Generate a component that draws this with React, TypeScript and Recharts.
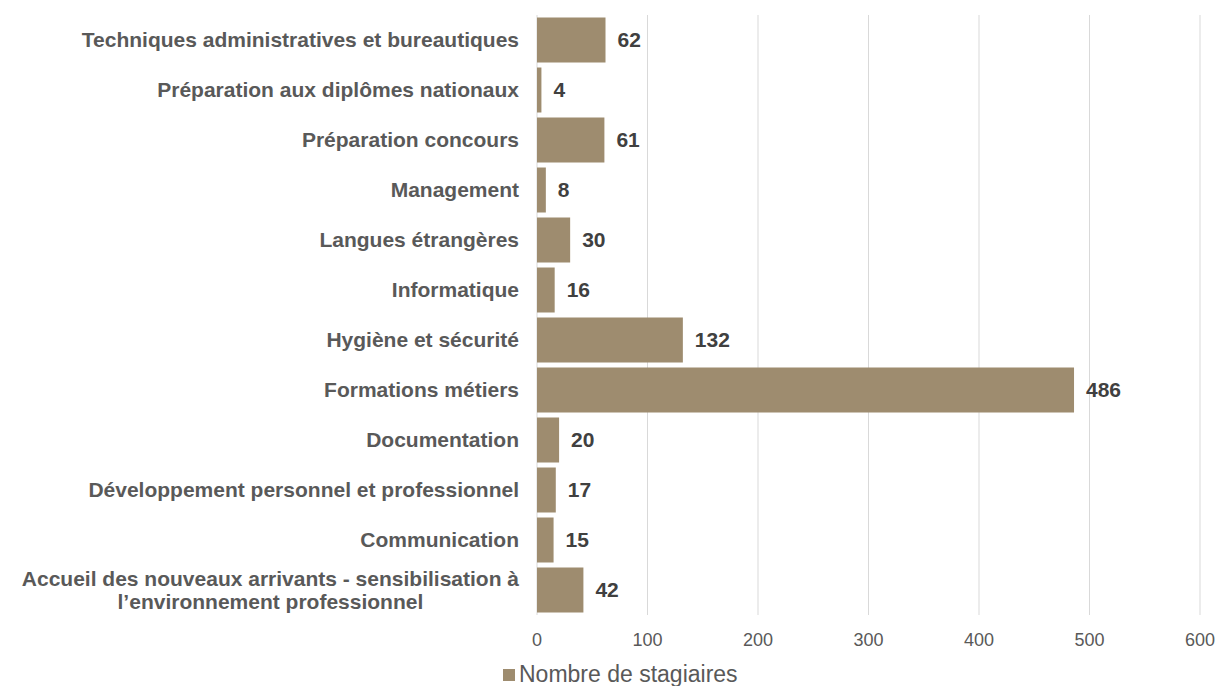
import React from 'react';
import { BarChart, Bar, XAxis, YAxis, CartesianGrid, Legend, LabelList } from 'recharts';

const categories = [
  'Techniques administratives et bureautiques',
  'Préparation aux diplômes nationaux',
  'Préparation concours',
  'Management',
  'Langues étrangères',
  'Informatique',
  'Hygiène et sécurité',
  'Formations métiers',
  'Documentation',
  'Développement personnel et professionnel',
  'Communication',
  'Accueil des nouveaux arrivants - sensibilisation à l’environnement professionnel',
];
const stagiaires = [62, 4, 61, 8, 30, 16, 132, 486, 20, 17, 15, 42];
const xTicks = [0, 100, 200, 300, 400, 500, 600];
const seriesName = 'Nombre de stagiaires';

const data = categories.map((c, i) => ({ cat: c, value: stagiaires[i] }));

const FONT = '"Liberation Sans", Arial, sans-serif';
const LABEL_FONT = `bold 21px ${FONT}`;

let ctx: CanvasRenderingContext2D | null = null;
function measure(s: string) {
  if (!ctx) ctx = document.createElement('canvas').getContext('2d');
  if (!ctx) return s.length * 11;
  ctx.font = LABEL_FONT;
  return ctx.measureText(s).width;
}

function wrap(text: string, max: number) {
  const words = text.split(' ');
  const lines: string[] = [];
  let cur = '';
  words.forEach((w) => {
    const t = cur ? cur + ' ' + w : w;
    if (measure(t) > max && cur) { lines.push(cur); cur = w; } else cur = t;
  });
  if (cur) lines.push(cur);
  return lines;
}

const CatTick = (props: any) => {
  const { x, y, payload } = props;
  const lines = wrap(payload.value, 515);
  const style = { fontFamily: FONT, fontWeight: 700, fontSize: 21, fill: '#595959' };
  if (lines.length === 1) {
    return <text x={x} y={y} dy="0.35em" textAnchor="end" style={style}>{lines[0]}</text>;
  }
  const w = Math.max(...lines.map(measure));
  const cx = x - w / 2;
  const lh = 23;
  const y0 = y - ((lines.length - 1) * lh) / 2;
  return (
    <text textAnchor="middle" style={style}>
      {lines.map((l, i) => (
        <tspan key={i} x={cx} y={y0 + i * lh} dy="0.35em">{l}</tspan>
      ))}
    </text>
  );
};

const LegendContent = () => (
  <div style={{ display: 'flex', alignItems: 'center', fontFamily: FONT, fontSize: 23, color: '#595959', whiteSpace: 'nowrap' }}>
    <span style={{ display: 'inline-block', width: 12, height: 12, background: '#9e8c6f', marginRight: 4 }} />
    {seriesName}
  </div>
);

export default function App() {
  return (
    <div style={{ position: 'absolute', left: 0, top: 0, width: 1217, height: 686, background: '#fff' }}>
      <BarChart
        width={1217}
        height={686}
        data={data}
        layout="vertical"
        margin={{ top: 15, right: 17, bottom: 41, left: 0 }}
        barCategoryGap="5%"
      >
        <CartesianGrid horizontal={false} stroke="#d9d9d9" />
        <XAxis
          type="number"
          domain={[0, 600]}
          ticks={xTicks}
          axisLine={false}
          tickLine={false}
          tickMargin={12}
          height={30}
          tick={{ fill: '#595959', fontSize: 18, fontFamily: FONT }}
        />
        <YAxis
          type="category"
          dataKey="cat"
          width={537}
          axisLine={false}
          tickLine={false}
          tickMargin={12}
          interval={0}
          tick={<CatTick />}
        />
        <Legend
          layout="horizontal"
          verticalAlign="middle"
          align="center"
          content={<LegendContent />}
          wrapperStyle={{ left: 503, top: 661, width: 'auto' }}
        />
        <Bar dataKey="value" name={seriesName} fill="#9e8c6f" isAnimationActive={false}>
          <LabelList
            dataKey="value"
            position="right"
            offset={12}
            style={{ fontFamily: FONT, fontWeight: 700, fontSize: 21, fill: '#404040' }}
          />
        </Bar>
      </BarChart>
    </div>
  );
}
